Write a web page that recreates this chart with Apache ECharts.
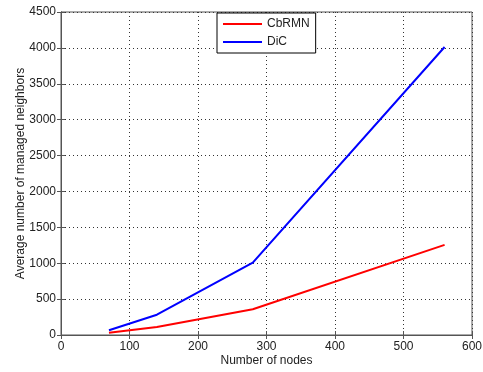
<!DOCTYPE html>
<html>
<head>
<meta charset="utf-8">
<script src="https://cdn.jsdelivr.net/npm/echarts@6/dist/echarts.min.js"></script>
<style>
  html, body { margin: 0; padding: 0; background: #fff; }
  #main { width: 483px; height: 372px; }
</style>
</head>
<body>
<div id="main"></div>
<script>
var nodes = [70, 140, 280, 560];
var cbrmn = [32, 111, 358, 1255];
var dic = [66, 283, 1008, 4012];

var chart = echarts.init(document.getElementById('main'));

function pairs(xs, ys) {
  return xs.map(function (x, i) { return [x, ys[i]]; });
}
function plain(v) { return String(v); }

var labelFont = { fontFamily: 'Liberation Sans, Arial', fontSize: 12, color: '#222' };
var dotted = { color: '#333', type: [1, 3], width: 1 };
var edge = { show: true, lineStyle: { color: '#555' } };
var ticks = { show: true, inside: true, length: 4, lineStyle: { color: '#555' } };

var option = {
  animation: false,
  grid: {
    left: 61, right: 11, top: 12, bottom: 37,
    containLabel: false, outerBoundsMode: 'none',
    show: true, borderColor: '#555', borderWidth: 1
  },
  legend: {
    left: 217, top: 13,
    orient: 'vertical',
    backgroundColor: '#fff',
    borderColor: '#000', borderWidth: 1,
    padding: [5, 6, 5, 6],
    itemGap: 6,
    itemWidth: 39, itemHeight: 2,
    icon: 'rect',
    textStyle: { fontFamily: 'Liberation Sans, Arial', fontSize: 12, color: '#222' },
    data: ['CbRMN', 'DiC']
  },
  xAxis: [{
    type: 'value', min: 0, max: 600, interval: 100,
    name: 'Number of nodes', nameLocation: 'middle', nameGap: 20, nameMoveOverlap: false,
    nameTextStyle: labelFont,
    axisLine: edge, axisTick: ticks,
    axisLabel: Object.assign({ margin: 6, formatter: plain }, labelFont),
    splitLine: { show: true, lineStyle: dotted }
  }, {
    type: 'value', position: 'top', min: 0, max: 600, interval: 100,
    axisLine: edge, axisTick: ticks,
    axisLabel: { show: false },
    splitLine: { show: false }
  }],
  yAxis: [{
    type: 'value', min: 0, max: 4500, interval: 500,
    name: 'Average number of managed neighbors', nameLocation: 'middle', nameGap: 34, nameMoveOverlap: false,
    nameTextStyle: labelFont,
    axisLine: edge, axisTick: ticks,
    axisLabel: Object.assign({ margin: 5, formatter: plain }, labelFont),
    splitLine: { show: true, lineStyle: dotted }
  }, {
    type: 'value', position: 'right', min: 0, max: 4500, interval: 500,
    axisLine: edge, axisTick: ticks,
    axisLabel: { show: false },
    splitLine: { show: false }
  }],
  series: [{
    name: 'CbRMN', type: 'line', symbol: 'none',
    color: '#ff0000', lineStyle: { width: 2, color: '#ff0000' },
    data: pairs(nodes, cbrmn)
  }, {
    name: 'DiC', type: 'line', symbol: 'none',
    color: '#0000ff', lineStyle: { width: 2, color: '#0000ff' },
    data: pairs(nodes, dic)
  }]
};

chart.setOption(option);
</script>
</body>
</html>
